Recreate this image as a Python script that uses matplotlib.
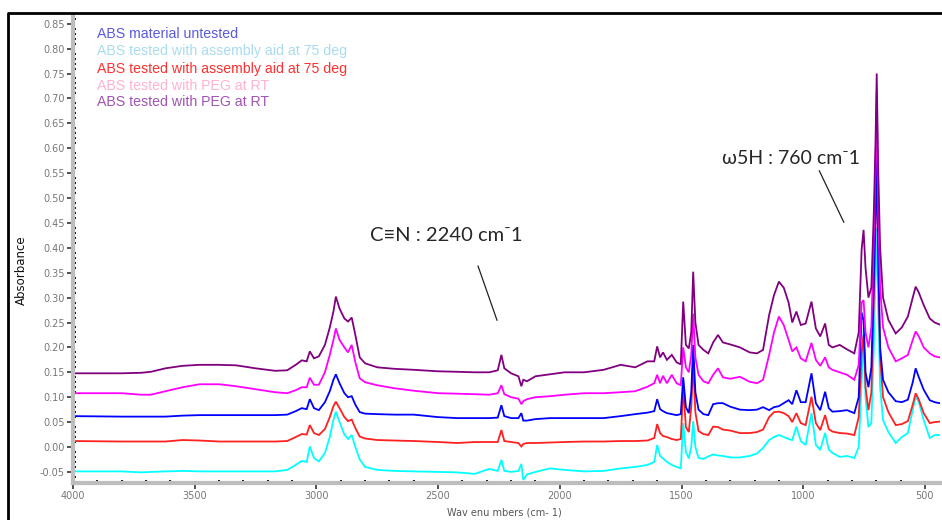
import matplotlib
matplotlib.use("Agg")
import matplotlib.pyplot as plt
from matplotlib.lines import Line2D
from matplotlib.ticker import MultipleLocator, FormatStrFormatter

# wavenumber grid shared by all spectra (cm-1)
wavenumbers = [
    4000, 3800, 3720, 3680, 3620, 3550, 3480, 3400, 3330, 3250,
    3170, 3120, 3085, 3060, 3040, 3027, 3010, 2990, 2965, 2945,
    2930, 2920, 2905, 2885, 2870, 2855, 2840, 2822, 2800, 2750,
    2680, 2600, 2500, 2420, 2350, 2290, 2255, 2240, 2228, 2200,
    2170, 2158, 2150, 2135, 2100, 2040, 1980, 1900, 1820, 1750,
    1690, 1640, 1612, 1600, 1588, 1576, 1560, 1540, 1520, 1503,
    1493, 1482, 1470, 1460, 1452, 1443, 1430, 1410, 1390, 1370,
    1350, 1330, 1300, 1260, 1220, 1190, 1165, 1140, 1120, 1100,
    1080, 1060, 1045, 1028, 1010, 990, 966, 948, 930, 910,
    895, 880, 850, 820, 790, 772, 760, 752, 744, 732,
    720, 710, 703, 698, 692, 684, 672, 650, 620, 595,
    570, 550, 538, 525, 505, 480, 460, 440,
]

abs_peg_rt = [
    0.148, 0.148, 0.149, 0.151, 0.158, 0.163, 0.165, 0.165, 0.164, 0.158,
    0.153, 0.154, 0.165, 0.174, 0.172, 0.192, 0.178, 0.182, 0.205, 0.240,
    0.272, 0.302, 0.278, 0.258, 0.252, 0.260, 0.225, 0.180, 0.168, 0.160,
    0.157, 0.155, 0.152, 0.151, 0.150, 0.150, 0.154, 0.185, 0.158, 0.148,
    0.142, 0.122, 0.135, 0.132, 0.142, 0.146, 0.150, 0.150, 0.155, 0.165,
    0.160, 0.172, 0.172, 0.202, 0.180, 0.190, 0.175, 0.185, 0.170, 0.166,
    0.292, 0.205, 0.198, 0.230, 0.352, 0.250, 0.205, 0.195, 0.188, 0.210,
    0.225, 0.210, 0.206, 0.200, 0.190, 0.188, 0.195, 0.265, 0.305, 0.332,
    0.320, 0.290, 0.250, 0.272, 0.245, 0.248, 0.292, 0.238, 0.222, 0.248,
    0.205, 0.200, 0.205, 0.196, 0.188, 0.230, 0.396, 0.436, 0.360, 0.300,
    0.320, 0.470, 0.610, 0.750, 0.560, 0.400, 0.300, 0.255, 0.228, 0.240,
    0.262, 0.300, 0.322, 0.310, 0.285, 0.258, 0.250, 0.246,
]

abs_peg_rt_2 = [
    0.108, 0.108, 0.105, 0.105, 0.112, 0.120, 0.126, 0.126, 0.122, 0.116,
    0.110, 0.108, 0.114, 0.120, 0.120, 0.139, 0.125, 0.125, 0.150, 0.185,
    0.215, 0.238, 0.215, 0.200, 0.190, 0.205, 0.170, 0.138, 0.130, 0.124,
    0.118, 0.113, 0.108, 0.107, 0.106, 0.105, 0.108, 0.124, 0.106, 0.100,
    0.097, 0.086, 0.092, 0.096, 0.100, 0.102, 0.105, 0.108, 0.108, 0.110,
    0.112, 0.121, 0.128, 0.145, 0.128, 0.143, 0.128, 0.145, 0.128, 0.124,
    0.200, 0.160, 0.150, 0.185, 0.268, 0.180, 0.145, 0.132, 0.128, 0.145,
    0.158, 0.140, 0.137, 0.141, 0.131, 0.128, 0.135, 0.185, 0.230, 0.262,
    0.245, 0.215, 0.192, 0.200, 0.178, 0.172, 0.209, 0.175, 0.163, 0.180,
    0.160, 0.155, 0.150, 0.145, 0.135, 0.165, 0.290, 0.295, 0.230, 0.200,
    0.240, 0.420, 0.560, 0.712, 0.480, 0.320, 0.240, 0.200, 0.172, 0.178,
    0.185, 0.215, 0.232, 0.222, 0.200, 0.188, 0.182, 0.180,
]

abs_untested = [
    0.062, 0.061, 0.061, 0.061, 0.061, 0.063, 0.064, 0.064, 0.064, 0.064,
    0.064, 0.065, 0.072, 0.078, 0.076, 0.096, 0.078, 0.074, 0.090, 0.112,
    0.135, 0.146, 0.128, 0.108, 0.100, 0.102, 0.085, 0.070, 0.067, 0.066,
    0.065, 0.065, 0.060, 0.058, 0.058, 0.058, 0.059, 0.084, 0.062, 0.058,
    0.058, 0.068, 0.053, 0.053, 0.056, 0.058, 0.058, 0.058, 0.058, 0.062,
    0.066, 0.069, 0.072, 0.096, 0.076, 0.072, 0.068, 0.066, 0.064, 0.066,
    0.140, 0.080, 0.068, 0.110, 0.205, 0.110, 0.075, 0.066, 0.064, 0.086,
    0.088, 0.088, 0.081, 0.075, 0.074, 0.075, 0.080, 0.074, 0.080, 0.082,
    0.088, 0.094, 0.086, 0.114, 0.090, 0.090, 0.148, 0.088, 0.074, 0.111,
    0.078, 0.071, 0.072, 0.074, 0.068, 0.100, 0.270, 0.255, 0.150, 0.120,
    0.160, 0.330, 0.470, 0.580, 0.380, 0.200, 0.135, 0.110, 0.092, 0.090,
    0.095, 0.130, 0.158, 0.140, 0.115, 0.094, 0.090, 0.088,
]

abs_aid_75_red = [
    0.012, 0.011, 0.011, 0.011, 0.011, 0.014, 0.013, 0.011, 0.011, 0.011,
    0.011, 0.012, 0.020, 0.026, 0.025, 0.044, 0.028, 0.024, 0.036, 0.060,
    0.082, 0.091, 0.078, 0.060, 0.052, 0.055, 0.038, 0.021, 0.017, 0.014,
    0.013, 0.012, 0.010, 0.008, 0.010, 0.010, 0.010, 0.034, 0.012, 0.010,
    0.008, 0.001, 0.006, 0.008, 0.008, 0.009, 0.010, 0.011, 0.011, 0.012,
    0.012, 0.013, 0.018, 0.046, 0.028, 0.022, 0.020, 0.016, 0.014, 0.016,
    0.120, 0.040, 0.030, 0.080, 0.170, 0.070, 0.032, 0.026, 0.024, 0.041,
    0.040, 0.035, 0.033, 0.028, 0.028, 0.030, 0.035, 0.060, 0.070, 0.071,
    0.068, 0.062, 0.050, 0.068, 0.048, 0.044, 0.101, 0.048, 0.034, 0.064,
    0.036, 0.031, 0.028, 0.027, 0.024, 0.060, 0.189, 0.225, 0.120, 0.074,
    0.110, 0.300, 0.460, 0.620, 0.380, 0.180, 0.100, 0.070, 0.044, 0.046,
    0.052, 0.085, 0.108, 0.095, 0.068, 0.048, 0.050, 0.051,
]

abs_aid_75_cyan = [
    -0.049, -0.049, -0.051, -0.050, -0.049, -0.048, -0.049, -0.049, -0.049, -0.049,
    -0.049, -0.046, -0.036, -0.028, -0.030, 0.001, -0.022, -0.029, -0.012, 0.020,
    0.055, 0.071, 0.050, 0.025, 0.016, 0.024, 0.000, -0.025, -0.040, -0.046,
    -0.048, -0.049, -0.050, -0.051, -0.054, -0.044, -0.048, -0.026, -0.048, -0.050,
    -0.048, -0.034, -0.066, -0.055, -0.050, -0.043, -0.046, -0.049, -0.048, -0.043,
    -0.040, -0.036, -0.030, 0.004, -0.018, -0.023, -0.030, -0.036, -0.040, -0.043,
    0.048, -0.010, -0.023, 0.000, 0.052, 0.000, -0.022, -0.024, -0.019, -0.015,
    -0.017, -0.018, -0.021, -0.021, -0.018, -0.013, -0.002, 0.014, 0.020, 0.024,
    0.020, 0.016, 0.014, 0.041, 0.012, 0.004, 0.068, 0.004, -0.006, 0.028,
    -0.005, -0.012, -0.020, -0.018, -0.022, 0.000, 0.130, 0.240, 0.100, 0.040,
    0.048, 0.200, 0.350, 0.440, 0.280, 0.120, 0.054, 0.030, 0.008, 0.020,
    0.028, 0.075, 0.101, 0.090, 0.054, 0.018, 0.024, 0.024,
]

legend_labels = [
    "ABS material untested",
    "ABS tested with assembly aid at 75 deg",
    "ABS tested with assembly aid at 75 deg",
    "ABS tested with PEG at RT",
    "ABS tested with PEG at RT",
]
legend_colors = ["#5a5ae0", "#a8dcef", "#ff3030", "#ffb3d1", "#a154b3"]

# drawing order: bottom trace first
series = [
    (abs_aid_75_cyan, "#00ffff"),
    (abs_aid_75_red, "#ff2020"),
    (abs_untested, "#0000ff"),
    (abs_peg_rt_2, "#ff00ff"),
    (abs_peg_rt, "#800080"),
]

fig = plt.figure(figsize=(9.42, 5.2), dpi=100)
ax = fig.add_axes([73 / 942, 37 / 520, 867 / 942, 468 / 520])

for values, color in series:
    ax.plot(wavenumbers, values, color=color, lw=1.3, solid_joinstyle="miter")

ax.set_xlim(4000, 438)
ax.set_ylim(-0.0723, 0.8675)

for side in ["top", "right"]:
    ax.spines[side].set_visible(False)
for side in ["left", "bottom"]:
    ax.spines[side].set_color("#bdbdbd")
    ax.spines[side].set_linewidth(3)

ax.yaxis.set_major_locator(MultipleLocator(0.05))
ax.yaxis.set_minor_locator(MultipleLocator(0.01))
ax.yaxis.set_major_formatter(FormatStrFormatter("%.2f"))
ax.xaxis.set_major_locator(MultipleLocator(500))
ax.xaxis.set_minor_locator(MultipleLocator(100))
ax.tick_params(axis="both", which="major", direction="out", length=4, width=1.2,
               color="#333333", labelsize=7, labelcolor="#777777", pad=2)
ax.tick_params(axis="both", which="minor", direction="in", length=2, width=1.5,
               color="#111111")

ax.set_ylabel("Absorbance", fontsize=8.5, color="#111111")
ax.yaxis.set_label_coords(-0.052, 0.455)
ax.set_xlabel("Wav enu mbers (cm- 1)", fontsize=7, color="#555555")
ax.xaxis.set_label_coords(0.498, -0.052)

# peak annotations
ann_font = ["Lato", "DejaVu Sans"]
ax.annotate("", xy=(2254, 0.249), xytext=(2340, 0.369),
            arrowprops=dict(arrowstyle="-", color="#222222", lw=0.9))
ax.text(2780, 0.424, "C\u2261N : 2240 cm\u207b1", fontsize=14.5, family=ann_font,
        color="#262626", va="center", ha="left")
ax.annotate("", xy=(828, 0.446), xytext=(939, 0.560),
            arrowprops=dict(arrowstyle="-", color="#222222", lw=0.9))
ax.text(1334, 0.580, "\u03c95H : 760 cm\u207b1", fontsize=14, family=ann_font,
        color="#262626", va="center", ha="left")

# legend as coloured text lines
for i, (label, color) in enumerate(zip(legend_labels, legend_colors)):
    fig.text(97 / 942, 1 - (34.5 + 17 * i) / 520, label, color=color,
             fontsize=10.2, family="Liberation Sans", va="center", ha="left")

# outer frame of the original screenshot
fig.add_artist(Line2D([8 / 942, 8 / 942, 1], [0, 1 - 13 / 520, 1 - 13 / 520],
                      transform=fig.transFigure, color="black", lw=2))

fig.savefig("out.png", dpi=100)
